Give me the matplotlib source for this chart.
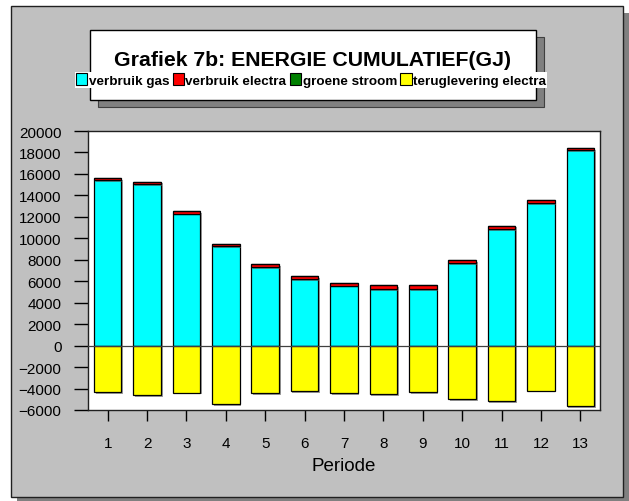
import numpy as np
import matplotlib.pyplot as plt
import matplotlib.patheffects as pe
from matplotlib.patches import Rectangle, Patch

plt.rcParams['font.family'] = ['Liberation Sans', 'DejaVu Sans']

# data
periode = [1, 2, 3, 4, 5, 6, 7, 8, 9, 10, 11, 12, 13]
verbruik_gas = [15400, 15020, 12290, 9270, 7340, 6220, 5600, 5260, 5260, 7680, 10860, 13280, 18200]
verbruik_electra = [190, 250, 250, 220, 220, 250, 220, 370, 370, 310, 310, 280, 220]
groene_stroom = [0, 0, 0, 0, 0, 0, 0, 0, 0, 0, 0, 0, 0]
teruglevering = [-4360, -4640, -4390, -5440, -4450, -4230, -4450, -4510, -4360, -4980, -5190, -4200, -5660]
y_ticks = list(range(-6000, 20001, 2000))

W, H = 629, 502


def box(x0, y0, x1, y1):
    # pixel box (top-down y) -> figure fractions
    return x0 / W, 1 - y1 / H, (x1 - x0) / W, (y1 - y0) / H


fig = plt.figure(figsize=(W / 100, H / 100), dpi=100)
fig.patch.set_facecolor('white')

# outer panel with shadow
x, y, w, h = box(17, 14, 629, 502)
fig.add_artist(Rectangle((x, y), w, h, transform=fig.transFigure, fc='#808080', ec='none', zorder=0))
x, y, w, h = box(11, 7, 623, 498)
fig.add_artist(Rectangle((x, y), w, h, transform=fig.transFigure, fc='#C0C0C0', ec='#202020', lw=1.0, zorder=0))

# title box with shadow
x, y, w, h = box(98, 38, 544, 108)
fig.add_artist(Rectangle((x, y), w, h, transform=fig.transFigure, fc='#808080', ec='#404040', lw=0.8, zorder=1))
x, y, w, h = box(90, 31, 536, 101)
fig.add_artist(Rectangle((x, y), w, h, transform=fig.transFigure, fc='white', ec='black', lw=1.0, zorder=2))
fig.text(313 / W, 1 - 60 / H, 'Grafiek 7b: ENERGIE CUMULATIEF(GJ)', ha='center', va='center',
         fontsize=15.3, fontweight='bold', zorder=3)

x, y, w, h = box(88, 132, 600, 411)
ax = fig.add_axes([x, y, w, h])
ax.set_facecolor('white')

pos = np.array(periode)
gas = np.array(verbruik_gas)
el = np.array(verbruik_electra)
gr = np.array(groene_stroom)
bw = 0.7
shadow = [pe.SimplePatchShadow(offset=(1.2, -1.2), shadow_rgbFace='#606060', alpha=0.6), pe.Normal()]
lay = []
lay.append(ax.bar(pos, gas, bw, color='#00FFFF', edgecolor='black', lw=0.9, zorder=3))
lay.append(ax.bar(pos, el, bw, bottom=gas, color='#FF0000', edgecolor='black', lw=0.9, zorder=3))
lay.append(ax.bar(pos, gr, bw, bottom=gas + el, color='#008000', edgecolor='black', lw=0.9, zorder=3))
lay.append(ax.bar(pos, teruglevering, bw, color='#FFFF00', edgecolor='black', lw=0.9, zorder=3))
for bars in lay:
    for b in bars:
        b.set_path_effects(shadow)
ax.axhline(0, color='#404040', lw=0.9, zorder=4)

ax.set_xlim(0.5, 13.5)
ax.set_ylim(-6000, 20000)
ax.set_yticks(y_ticks)
ax.set_xticks(pos)
ax.set_xticklabels([str(p) for p in periode])
ax.tick_params(axis='y', direction='out', length=10, width=1, labelsize=11, pad=9)
ax.tick_params(axis='x', direction='out', length=8, width=1, labelsize=11, pad=11)
for s in ax.spines.values():
    s.set_linewidth(1.0)
    s.set_color('#202020')
ax.set_xlabel('Periode', fontsize=13.5, labelpad=5)

handles = [Patch(fc='#00FFFF', ec='black', lw=0.8),
           Patch(fc='#FF0000', ec='black', lw=0.8),
           Patch(fc='#008000', ec='black', lw=0.8),
           Patch(fc='#FFFF00', ec='black', lw=0.8)]
labels = ['verbruik gas', 'verbruik electra', 'groene stroom', 'teruglevering electra']
leg = fig.legend(handles, labels, loc='center', bbox_to_anchor=(311 / W, 1 - 81 / H), ncol=4,
                 frameon=True, fancybox=False, edgecolor='none', framealpha=1,
                 prop={'size': 9.7, 'weight': 'bold'}, handlelength=0.85, handleheight=0.9,
                 handletextpad=0.1, columnspacing=0.25, borderpad=0.1, borderaxespad=0)
leg.set_zorder(5)

fig.savefig('out.png', dpi=100, facecolor='white')
